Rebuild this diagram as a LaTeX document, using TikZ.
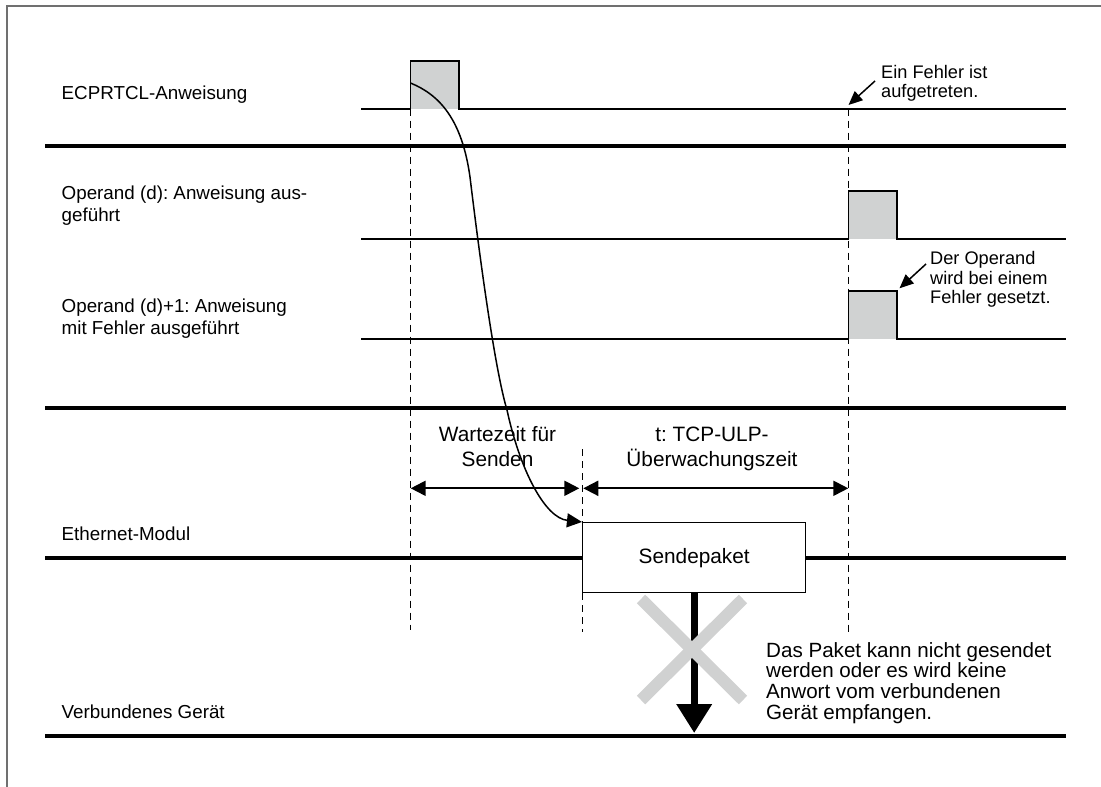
\documentclass[tikz,border=0pt]{standalone}
\usepackage{fontspec}
\setmainfont{Liberation Sans}
\usetikzlibrary{arrows.meta}
\definecolor{pulsegray}{RGB}{208,210,210}
\definecolor{crossgray}{RGB}{208,209,209}
\definecolor{framegray}{RGB}{112,112,112}
\frenchspacing
\begin{document}
\begin{tikzpicture}[x=1pt,y=-1pt,
  sig/.style={line width=1.8pt},
  rail/.style={line width=4pt},
  guide/.style={line width=1pt, dash pattern=on 7pt off 5pt},
  dtip/.style={{Triangle[length=15pt,width=15pt]}-{Triangle[length=15pt,width=15pt]}, line width=2pt},
  note arrow/.style={line width=1.5pt, -{Triangle[length=14pt,width=12pt]}},
  lbl/.style={anchor=base west, inner sep=0pt, font=\fontsize{18.8}{22}\selectfont},
  note/.style={anchor=base west, inner sep=0pt, font=\fontsize{18.2}{19.5}\selectfont},
  midtext/.style={anchor=base, inner sep=0pt, font=\fontsize{20.8}{25}\selectfont},
  bigtext/.style={anchor=base west, inner sep=0pt, font=\fontsize{20.6}{20}\selectfont},
  packet/.style={draw, line width=1.5pt, fill=white, minimum width=223pt, minimum height=70pt, inner sep=0pt, font=\fontsize{20.8}{25}\selectfont},
  xstroke/.style={line width=12pt, crossgray}
]
\useasboundingbox (0,0) rectangle (1101,787);
% frame
\draw[framegray, line width=2pt] (7,787) -- (7,6) -- (1101,6);

% rails
\draw[rail] (45,146) -- (1065.7,146);
\draw[rail] (45,408) -- (1065.7,408);
\draw[rail] (45,558) -- (1065.7,558);
\draw[rail] (45,735.7) -- (1065.7,735.7);

% pulse fills
\fill[pulsegray] (410.5,61) rectangle (459,108.7);
\fill[pulsegray] (848.5,191) rectangle (897.3,239);
\fill[pulsegray] (848.5,291) rectangle (897.3,339);

% guides
\draw[guide] (410.5,108.7) -- (410.5,630);
\draw[guide] (582.3,449) -- (582.3,632);
\draw[guide] (848.5,108.7) -- (848.5,632);

% signals
\draw[sig] (361,108.7) -| (410.5,61) -| (459,108.7) -- (1065.7,108.7);
\draw[sig] (361,239) -| (848.5,191) -| (897.3,239) -- (1065.7,239);
\draw[sig] (361,339) -| (848.5,291) -| (897.3,339) -- (1065.7,339);

% labels
\node[lbl] (l1) at (61.5,99) {ECPRTCL-Anweisung};
\node[lbl] (l2) at (61.5,199.6) {\begin{tabular}[t]{@{}l@{}}Operand (d): Anweisung aus-\\geführt\end{tabular}};
\node[lbl] (l3) at (61.5,312.6) {\begin{tabular}[t]{@{}l@{}}Operand (d)+1: Anweisung\\mit Fehler ausgeführt\end{tabular}};
\node[lbl] (l4) at (61.5,540) {Ethernet-Modul};
\node[lbl] (l5) at (61.5,718) {Verbundenes Gerät};

% notes
\node[note] (n1) at (881,78) {\begin{tabular}[t]{@{}l@{}}Ein Fehler ist\\aufgetreten.\end{tabular}};
\node[note] (n2) at (930,264.5) {\begin{tabular}[t]{@{}l@{}}Der Operand\\wird bei einem\\Fehler gesetzt.\end{tabular}};
\coordinate (n1s) at (875,81);
\coordinate (n1e) at (848.5,105);
\coordinate (n2s) at (926,264);
\coordinate (n2e) at (899.5,288.3);
\draw[note arrow] (n1s) -- (n1e);
\draw[note arrow] (n2s) -- (n2e);

% time spans
\node[midtext] (w) at (497.5,441.7) {\begin{tabular}[t]{@{}c@{}}Wartezeit für\\Senden\end{tabular}};
\node[midtext] (t) at (712,441.7) {\begin{tabular}[t]{@{}c@{}}t: TCP-ULP-\\Überwachungszeit\end{tabular}};
\coordinate (a1) at (410.7,488.3);
\coordinate (a2) at (579.3,488.3);
\coordinate (a3) at (583.3,488.3);
\coordinate (a4) at (848.3,488.3);
\draw[dtip] (a1) -- (a2);
\draw[dtip] (a3) -- (a4);

% packet
\node[packet] (pkt) at (694.2,557.7) {Sendepaket};

% curve
\coordinate (cs) at (410.5,83);
\draw[line width=1.5pt, -{Triangle[length=15pt,width=14pt]}] (cs) .. controls (440,95) and (462,120) .. (470,177)
  .. controls (480,260) and (495,370) .. (507,410)
  .. controls (520,470) and (545,518) .. (pkt.north west);

% failed transfer
\coordinate (down) at (694.2,733);
\draw[line width=7pt, -{Triangle[length=29pt,width=34pt]}] (pkt.south) -- (down);
\draw[xstroke] (641,599) -- (743,700);
\draw[xstroke] (743,599) -- (641,700);
\node[bigtext] (b) at (766,657) {\begin{tabular}[t]{@{}l@{}}Das Paket kann nicht gesendet\\werden oder es wird keine\\Anwort vom verbundenen\\Gerät empfangen.\end{tabular}};
\end{tikzpicture}
\end{document}
